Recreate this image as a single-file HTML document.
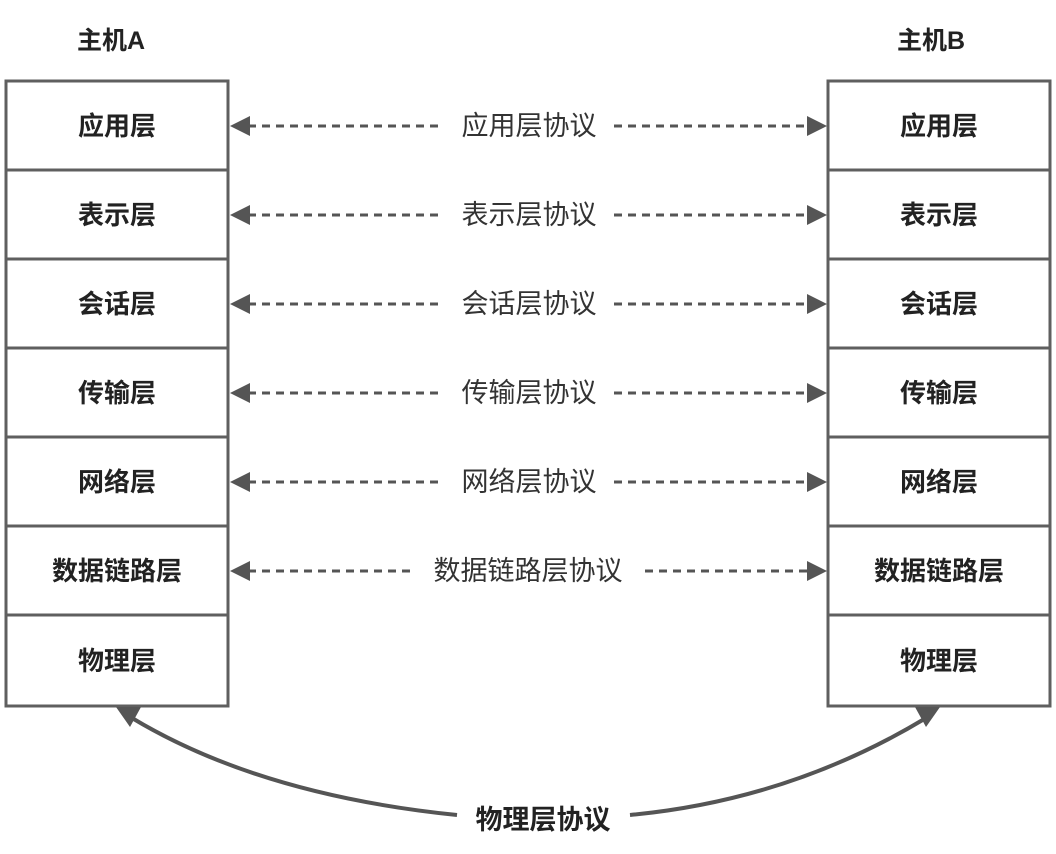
<!DOCTYPE html>
<html><head><meta charset="utf-8"><style>
html,body{margin:0;padding:0;background:#fff;width:1056px;height:854px;overflow:hidden}
text{font-family:"Liberation Sans","Noto Sans CJK SC",sans-serif}
</style></head><body>
<svg width="1056" height="854" viewBox="0 0 1056 854" xmlns="http://www.w3.org/2000/svg">
<g font-weight="bold" font-size="25" fill="#222" text-anchor="middle">
<text x="111" y="49">主机A</text>
<text x="931" y="49">主机B</text>
</g>
<g fill="#fff" stroke="#5f5f5f" stroke-width="3">
<rect x="6" y="81" width="222" height="89"/><rect x="6" y="170" width="222" height="89"/><rect x="6" y="259" width="222" height="89"/><rect x="6" y="348" width="222" height="89"/><rect x="6" y="437" width="222" height="89"/><rect x="6" y="526" width="222" height="89"/><rect x="6" y="615" width="222" height="91"/>
<rect x="828" y="81" width="222" height="89"/><rect x="828" y="170" width="222" height="89"/><rect x="828" y="259" width="222" height="89"/><rect x="828" y="348" width="222" height="89"/><rect x="828" y="437" width="222" height="89"/><rect x="828" y="526" width="222" height="89"/><rect x="828" y="615" width="222" height="91"/>
</g>
<g font-weight="bold" font-size="26" fill="#222" text-anchor="middle">
<text x="117" y="135">应用层</text><text x="939" y="135">应用层</text>
<text x="117" y="224">表示层</text><text x="939" y="224">表示层</text>
<text x="117" y="313">会话层</text><text x="939" y="313">会话层</text>
<text x="117" y="402">传输层</text><text x="939" y="402">传输层</text>
<text x="117" y="491">网络层</text><text x="939" y="491">网络层</text>
<text x="117" y="580">数据链路层</text><text x="939" y="580">数据链路层</text>
<text x="117" y="670">物理层</text><text x="939" y="670">物理层</text>
</g>
<g stroke="#555" stroke-width="3" stroke-dasharray="8,6">
<line x1="248" y1="126" x2="440" y2="126"/><line x1="614" y1="126" x2="810" y2="126"/>
<line x1="248" y1="215" x2="440" y2="215"/><line x1="614" y1="215" x2="810" y2="215"/>
<line x1="248" y1="304" x2="440" y2="304"/><line x1="614" y1="304" x2="810" y2="304"/>
<line x1="248" y1="393" x2="440" y2="393"/><line x1="614" y1="393" x2="810" y2="393"/>
<line x1="248" y1="482" x2="440" y2="482"/><line x1="614" y1="482" x2="810" y2="482"/>
<line x1="248" y1="571" x2="412" y2="571"/><line x1="645" y1="571" x2="810" y2="571"/>
</g>
<g fill="#555">
<polygon points="230,126 250,116 250,136"/><polygon points="827,126 807,116 807,136"/>
<polygon points="230,215 250,205 250,225"/><polygon points="827,215 807,205 807,225"/>
<polygon points="230,304 250,294 250,314"/><polygon points="827,304 807,294 807,314"/>
<polygon points="230,393 250,383 250,403"/><polygon points="827,393 807,383 807,403"/>
<polygon points="230,482 250,472 250,492"/><polygon points="827,482 807,472 807,492"/>
<polygon points="230,571 250,561 250,581"/><polygon points="827,571 807,561 807,581"/>
</g>
<g font-size="27" fill="#333" text-anchor="middle">
<text x="529" y="135">应用层协议</text>
<text x="529" y="224">表示层协议</text>
<text x="529" y="313">会话层协议</text>
<text x="529" y="402">传输层协议</text>
<text x="529" y="491">网络层协议</text>
<text x="528" y="580">数据链路层协议</text>
</g>
<g fill="none" stroke="#555" stroke-width="4">
<path d="M457,815 Q260,795 132,718"/>
<path d="M630,815 Q790,800 926,718"/>
</g>
<g fill="#555">
<polygon points="116,707 141,707 130,727"/>
<polygon points="915,707 940,707 926,727"/>
</g>
<text x="543" y="829" font-size="27" font-weight="bold" fill="#222" text-anchor="middle">物理层协议</text>
</svg>
</body></html>
